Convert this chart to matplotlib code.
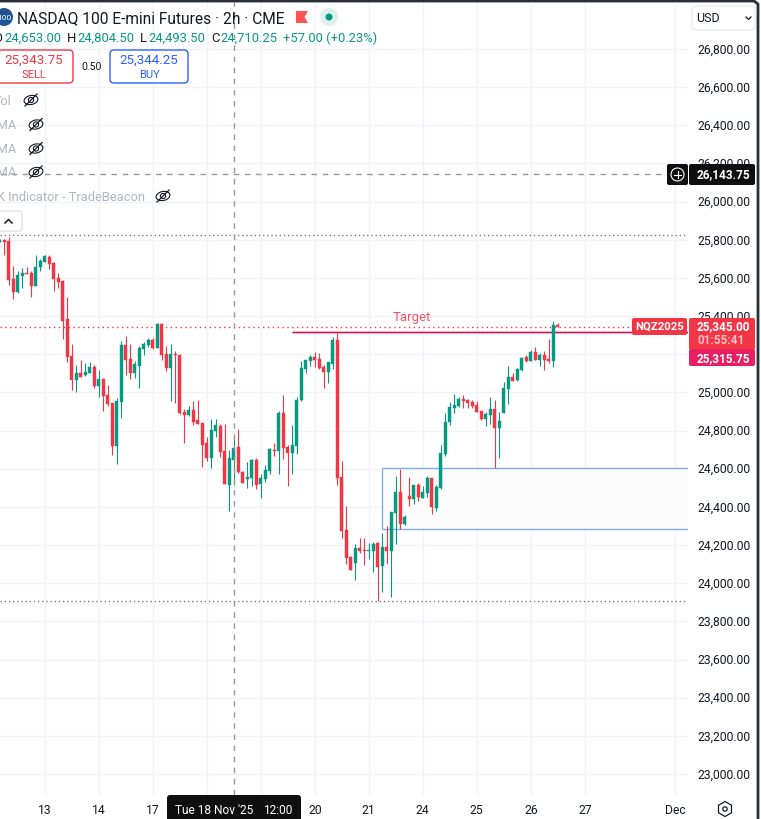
import numpy as np
import matplotlib
matplotlib.use("Agg")
import matplotlib.pyplot as plt
from matplotlib.patches import Circle, Ellipse, FancyBboxPatch, RegularPolygon, Polygon

plt.rcParams['font.family'] = ['Roboto', 'DejaVu Sans']

# === data ===
opens = [
    25790, 25801, 25794, 25595, 25527, 25610, 25626, 25626, 25558, 25657,
    25684, 25710, 25679, 25600, 25584, 25385, 25191, 25065, 25102, 25092,
    25102, 25134, 25034, 25071, 24987, 24945, 24720, 24950, 25249, 25176,
    25102, 25139, 25228, 25249, 25275, 25233, 25359, 25202, 25128, 25202,
    25197, 24898, 24882, 24908, 24856, 24840, 24735, 24657, 24798, 24825,
    24693, 24515, 24646, 24714, 24583, 24546, 24552, 24646, 24520, 24546,
    24588, 24698, 24693, 24892, 24714, 24682, 24719, 24960, 25123, 25165,
    25186, 25175, 25133, 25107, 25149, 25275, 24557, 24279, 24137, 24106,
    24185, 24174, 24169, 24169, 24211, 24090, 24190, 24169, 24368, 24478,
    24310, 24457, 24441, 24515, 24447, 24473, 24551, 24394, 24499, 24677,
    24845, 24918, 24929, 24965, 24960, 24950, 24934, 24902, 24860, 24881,
    24913, 24813, 24892, 25018, 25081, 25065, 25117, 25185, 25164, 25212,
    25170, 25196, 25175, 25164, 25353,
]
highs = [
    25804, 25804, 25813, 25661, 25636, 25652, 25657, 25636, 25720, 25699,
    25720, 25720, 25684, 25626, 25589, 25500, 25254, 25144, 25170, 25155,
    25160, 25144, 25118, 25076, 25039, 24945, 24971, 25270, 25296, 25254,
    25165, 25244, 25265, 25286, 25286, 25364, 25364, 25244, 25254, 25218,
    25202, 24914, 24929, 24955, 24961, 24840, 24767, 24861, 24861, 24835,
    24835, 24698, 24777, 24808, 24588, 24635, 24651, 24656, 24573, 24620,
    24709, 24735, 24903, 24987, 24724, 24829, 24976, 25165, 25170, 25196,
    25212, 25207, 25144, 25160, 25290, 25311, 24641, 24405, 24143, 24206,
    24237, 24237, 24211, 24216, 24216, 24263, 24300, 24373, 24562, 24599,
    24358, 24557, 24515, 24525, 24509, 24562, 24551, 24515, 24724, 24892,
    24950, 24992, 24976, 24986, 24965, 24960, 24955, 24902, 24897, 24976,
    24960, 24897, 25054, 25138, 25102, 25128, 25185, 25196, 25222, 25238,
    25206, 25217, 25280, 25374, 25364,
]
lows = [
    25790, 25720, 25563, 25490, 25521, 25547, 25621, 25500, 25558, 25636,
    25682, 25647, 25532, 25547, 25280, 25160, 25013, 25002, 25081, 25087,
    25102, 25024, 24976, 24903, 24929, 24673, 24625, 24866, 25092, 25071,
    25076, 25024, 25197, 25239, 25228, 25233, 25170, 25113, 24956, 24945,
    24887, 24735, 24877, 24830, 24835, 24610, 24641, 24604, 24767, 24662,
    24520, 24379, 24515, 24578, 24525, 24499, 24510, 24494, 24447, 24531,
    24573, 24667, 24573, 24651, 24510, 24573, 24677, 24955, 25102, 25139,
    25133, 25123, 25023, 25050, 25123, 24515, 24237, 24101, 24069, 24017,
    24158, 24095, 24127, 24059, 23907, 23954, 24101, 23928, 24206, 24284,
    24305, 24405, 24415, 24431, 24447, 24452, 24363, 24378, 24494, 24667,
    24829, 24892, 24923, 24918, 24918, 24918, 24897, 24855, 24824, 24834,
    24604, 24656, 24892, 24939, 25060, 25060, 25112, 25159, 25164, 25170,
    25138, 25117, 25154, 25133, 25345,
]
closes = [
    25801, 25790, 25589, 25525, 25616, 25626, 25621, 25558, 25657, 25689,
    25715, 25673, 25595, 25579, 25375, 25186, 25065, 25102, 25081, 25107,
    25134, 25034, 25071, 24982, 24940, 24720, 24956, 25249, 25170, 25102,
    25149, 25233, 25254, 25275, 25233, 25359, 25197, 25128, 25202, 25197,
    24893, 24882, 24908, 24845, 24835, 24725, 24657, 24803, 24830, 24688,
    24520, 24656, 24709, 24583, 24525, 24557, 24646, 24515, 24552, 24594,
    24704, 24693, 24892, 24709, 24682, 24724, 24960, 25128, 25170, 25186,
    25170, 25128, 25107, 25160, 25275, 24552, 24274, 24132, 24069, 24185,
    24169, 24169, 24174, 24206, 24085, 24190, 24169, 24373, 24478, 24310,
    24347, 24441, 24515, 24452, 24478, 24551, 24399, 24504, 24682, 24845,
    24923, 24934, 24965, 24955, 24944, 24929, 24897, 24860, 24887, 24913,
    24813, 24850, 25023, 25081, 25060, 25123, 25180, 25164, 25212, 25170,
    25196, 25170, 25164, 25353, 25345,
]

price_ticks = list(range(23000, 27000, 200))
day_ticks = [10, 22, 34, 46, 58, 70, 82, 94, 106, 118, 130, 150]
day_labels = ['13', '14', '17', '18', '19', '20', '21', '24', '25', '26', '27', 'Dec']

last_price = 25345.00
target_price = 25315.75
crosshair_price = 26143.75
crosshair_bar = 52
high_line = 25825
low_line = 23907
zone_top = 24604
zone_bottom = 24283
zone_start = 85
target_start = 65
target_label_bar = 91.6

GREEN = '#089981'
RED = '#F23645'
BLUE = '#2962FF'
GREY = '#B2B5BE'
INK = '#131722'
GRID = '#F0F3FA'

W, H = 761, 820
fig = plt.figure(figsize=(W / 100, H / 100), dpi=100, facecolor='white')

# price pane: x in bars, y in price
ax = fig.add_axes([0, 1 - 796 / H, 688 / W, 793 / H])
ax.set_xlim(0.044, 152.93)
ax.set_ylim(26800 - (796 - 50) / 0.19079, 26800 - (3 - 50) / 0.19079)
for s in ax.spines.values():
    s.set_visible(False)
ax.set_yticks(price_ticks)
ax.set_yticklabels([f'{p:,.2f}' for p in price_ticks], va='center', y=0)
ax.yaxis.tick_right()
ax.set_xticks(day_ticks)
ax.set_xticklabels(day_labels)
ax.tick_params(axis='both', length=0, labelsize=8.7, labelcolor=INK)
ax.tick_params(axis='y', pad=7)
ax.tick_params(axis='x', pad=6)
ax.grid(True, color=GRID, linewidth=1)
ax.set_axisbelow(True)

x = np.arange(len(opens))
o, h, l, c = map(np.array, (opens, highs, lows, closes))
colors = [GREEN if cl >= op else RED for op, cl in zip(o, c)]

# zone box
right_edge = ax.get_xlim()[1]
ax.fill_between([zone_start, right_edge], zone_bottom, zone_top, color='#FCFCFC', lw=0, zorder=1)
ax.hlines([zone_top, zone_bottom], zone_start, right_edge, color='#82ACF5', lw=1, zorder=2)
ax.vlines(zone_start, zone_bottom, zone_top, color='#82ACF5', lw=1, zorder=2)

# levels
ax.axhline(high_line, color='#787B86', lw=1, ls=(0, (1, 2)), zorder=2)
ax.axhline(low_line, color='#787B86', lw=1, ls=(0, (1, 2)), zorder=2)
ax.axhline(last_price, color=RED, lw=1, ls=(0, (1, 2.5)), zorder=2)
ax.hlines(target_price, target_start, right_edge, color='#F48FB1', lw=2.2, alpha=0.5, zorder=2)
ax.hlines(target_price, target_start, right_edge, color='#C2185B', lw=0.9, zorder=2)

# candles
ax.vlines(x, l, h, colors=colors, lw=0.8, zorder=3)
ax.bar(x, np.abs(c - o), bottom=np.minimum(o, c), width=0.62, color=colors,
       edgecolor=colors, linewidth=0.3, zorder=3)

# crosshair
ax.axhline(crosshair_price, color='#9598A1', lw=1, ls=(0, (4, 4)), zorder=4)
ax.axvline(crosshair_bar, color='#9598A1', lw=1, ls=(0, (4, 4)), zorder=4)

ax.text(target_label_bar, target_price + 84, 'Target', color='#F7525F', fontsize=9.5,
        ha='center', va='center', zorder=4)

# === interface on top, in pixels ===
ui = fig.add_axes([0, 0, 1, 1], zorder=5)
ui.set_xlim(0, W)
ui.set_ylim(H, 0)
ui.axis('off')
ui.patch.set_visible(False)


def box(x0, y0, x1, y1, fc, ec='none', lw=1, r=2):
    ui.add_patch(FancyBboxPatch((x0 + r, y0 + r), x1 - x0 - 2 * r, y1 - y0 - 2 * r,
                                boxstyle=f'round,pad={r},rounding_size={r}',
                                fc=fc, ec=ec, lw=lw, mutation_aspect=1))


def label(px, py, s, color=INK, size=9, ha='left', weight='normal'):
    ui.text(px, py, s, color=color, fontsize=size, ha=ha, va='center', weight=weight)


def eye(px, py):
    ui.add_patch(Ellipse((px, py), 14, 9, angle=-12, fc='white', ec=INK, lw=0.8))
    ui.add_patch(Circle((px, py), 2.6, fc='none', ec=INK, lw=0.8))
    ui.plot([px - 6, px + 6], [py + 6, py - 6], color=INK, lw=0.9)


# frame
ui.plot([0, 754, 758, 758], [2, 2, 5, 820], color='#2A2E39', lw=2, solid_joinstyle='round')

# header
ui.add_patch(Circle((4, 18), 9, fc='#1E5494', ec='none'))
label(4, 18, '100', color='white', size=6, ha='center')
label(17, 18.5, 'NASDAQ 100 E-mini Futures · 2h · CME', size=11.2)
ui.add_patch(Polygon([(296, 12), (308, 12), (304.5, 18), (308, 24), (296, 24)], fc='#FF5252', ec='none'))
ui.add_patch(Circle((329, 18), 9, fc='#DDF1EE', ec='none'))
ui.add_patch(Circle((329, 18), 3.5, fc=GREEN, ec='none'))

# ohlc row
for px, s, col in [(-7, 'O', INK), (4, '24,653.00', GREEN), (67, 'H', INK), (77, '24,804.50', GREEN),
                   (140, 'L', INK), (148, '24,493.50', GREEN), (211, 'C', INK), (220, '24,710.25', GREEN),
                   (283, '+57.00 (+0.23%)', GREEN)]:
    label(px, 38.5, s, color=col, size=9.4)

# order buttons
box(-3, 51, 73, 84, 'white', ec=RED, lw=1, r=4)
label(34, 60.5, '25,343.75', color=RED, size=9.6, ha='center')
label(34, 75, 'SELL', color=RED, size=8, ha='center')
label(92, 67.5, '0.50', size=7.5, ha='center')
box(110, 51, 188, 84, 'white', ec=BLUE, lw=1, r=4)
label(149, 60.5, '25,344.25', color=BLUE, size=9.6, ha='center')
label(149, 75, 'BUY', color=BLUE, size=8, ha='center')

# hidden indicators
label(12, 101.5, 'Vol', color=GREY, size=9.3, ha='right')
eye(31, 101)
for yy in (125.5, 149.5, 173):
    label(17, yy, 'SMA', color=GREY, size=9.3, ha='right')
    eye(36, yy)
label(145, 197.5, 'K Indicator - TradeBeacon', color=GREY, size=9.3, ha='right')
eye(163, 197)
box(-5, 212, 22, 232, 'white', ec='#E0E3EB', lw=1, r=3)
ui.plot([5, 8.5, 12], [224, 220.5, 224], color=INK, lw=1.1)

# currency box
box(692, 7, 755, 31, 'white', ec='#E9ECF2', lw=1, r=4)
label(696, 19, 'USD', size=9)
ui.plot([746, 748.5, 751], [18, 20.5, 18], color=INK, lw=0.9)

# price tags
box(667, 165, 688, 186, '#0F0F0F', r=2)
ui.add_patch(Circle((677.5, 175.5), 6.5, fc='none', ec='white', lw=0.8))
ui.plot([674, 681], [175.5, 175.5], color='white', lw=0.8)
ui.plot([677.5, 677.5], [172, 179], color='white', lw=0.8)
box(689, 165, 755, 186, '#0F0F0F', r=2)
label(697, 175, '26,143.75', color='white', size=8.5, weight='bold')

box(632, 319, 687, 336, RED, r=2)
label(659.5, 327, 'NQZ2025', color='white', size=8.2, ha='center', weight='bold')
box(689, 319, 755, 351, RED, r=2)
label(697, 327, '25,345.00', color='white', size=8.5, weight='bold')
label(697, 341, '01:55:41', color='#FBC2C7', size=8.5, weight='bold')
box(689, 350, 755, 367, '#E91E63', r=2)
label(697, 358.5, '25,315.75', color='white', size=8.5, weight='bold')

# time axis tag and settings
box(167, 796, 301, 826, '#0F0F0F', r=3)
label(175, 810.5, "Tue 18 Nov '25", color='white', size=8.6)
label(263, 810.5, '12:00', color='white', size=8.6)
ui.add_patch(RegularPolygon((725, 810), 6, radius=7.5, fc='none', ec=INK, lw=0.9))
ui.add_patch(Circle((725, 810), 2.2, fc='none', ec=INK, lw=0.9))

fig.savefig('out.png', dpi=100, facecolor='white')
